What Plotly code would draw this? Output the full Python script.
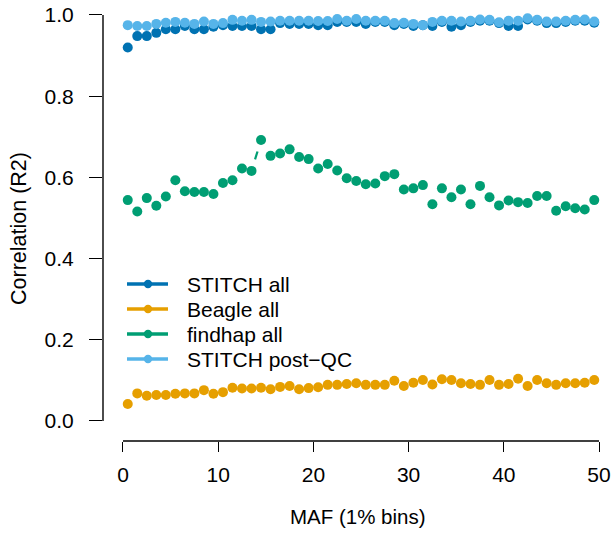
import math
import plotly.graph_objects as go

# ---------------- data ----------------
maf_bins = [i + 0.5 for i in range(50)]

stitch_all = [0.920, 0.948, 0.948, 0.956, 0.965, 0.965, 0.973, 0.965, 0.965, 0.971,
              0.975, 0.973, 0.973, 0.973, 0.965, 0.965, 0.980, 0.978, 0.978, 0.978,
              0.975, 0.975, 0.983, 0.983, 0.983, 0.978, 0.983, 0.983, 0.975, 0.978,
              0.973, 0.975, 0.973, 0.983, 0.971, 0.975, 0.983, 0.986, 0.986, 0.980,
              0.973, 0.973, 0.989, 0.986, 0.980, 0.980, 0.983, 0.986, 0.986, 0.981]

beagle_all = [0.042, 0.068, 0.062, 0.064, 0.064, 0.067, 0.068, 0.068, 0.076, 0.067,
              0.071, 0.082, 0.080, 0.080, 0.082, 0.078, 0.084, 0.086, 0.078, 0.081,
              0.083, 0.089, 0.089, 0.091, 0.093, 0.089, 0.089, 0.089, 0.099, 0.086,
              0.094, 0.101, 0.090, 0.103, 0.101, 0.093, 0.091, 0.089, 0.101, 0.089,
              0.091, 0.104, 0.086, 0.101, 0.093, 0.089, 0.093, 0.093, 0.094, 0.101]

findhap_all = [0.544, 0.516, 0.549, 0.530, 0.553, 0.593, 0.566, 0.564, 0.564, 0.559,
               0.586, 0.593, 0.622, 0.616, 0.692, 0.653, 0.659, 0.669, 0.650, 0.645,
               0.622, 0.633, 0.617, 0.598, 0.591, 0.583, 0.585, 0.603, 0.608, 0.570,
               0.573, 0.581, 0.534, 0.573, 0.551, 0.570, 0.534, 0.579, 0.551, 0.531,
               0.543, 0.539, 0.537, 0.554, 0.554, 0.518, 0.529, 0.524, 0.521, 0.544]

stitch_postqc = [0.975, 0.973, 0.973, 0.978, 0.981, 0.983, 0.981, 0.978, 0.984, 0.978,
                 0.980, 0.988, 0.986, 0.988, 0.983, 0.984, 0.986, 0.986, 0.986, 0.986,
                 0.985, 0.985, 0.990, 0.986, 0.990, 0.986, 0.986, 0.986, 0.980, 0.981,
                 0.978, 0.975, 0.983, 0.986, 0.986, 0.984, 0.986, 0.989, 0.988, 0.982,
                 0.986, 0.986, 0.992, 0.988, 0.984, 0.984, 0.986, 0.988, 0.989, 0.984]

series_names = ["STITCH all", "Beagle all", "findhap all", "STITCH post\u2212QC"]
series_values = [stitch_all, beagle_all, findhap_all, stitch_postqc]
series_colors = ["#0072B2", "#E69F00", "#009E73", "#56B4E9"]

x_ticks = [0, 10, 20, 30, 40, 50]
y_ticks = [0.0, 0.2, 0.4, 0.6, 0.8, 1.0]
x_title = "MAF (1% bins)"
y_title = "Correlation (R2)"

# ---------------- geometry ----------------
W, H = 615, 539
ML, MR, MT, MB = 103, 0, 0, 98
PW, PH = W - ML - MR, H - MT - MB
XR = [-2.10, 51.68]
YR = [-0.0493, 1.0369]
FONT = "Liberation Sans, Arial, Helvetica, sans-serif"


def to_px(x, y):
    return (ML + (x - XR[0]) / (XR[1] - XR[0]) * PW,
            MT + (YR[1] - y) / (YR[1] - YR[0]) * PH)


def from_px(px, py):
    return (XR[0] + (px - ML) / PW * (XR[1] - XR[0]),
            YR[1] - (py - MT) / PH * (YR[1] - YR[0]))


def px_to_paper(px, py):
    return ((px - ML) / PW, (MT + PH - py) / PH)


GAP = 12.0  # R type="b" gap around each point, in px


def gapped_segments(xs, ys):
    sx, sy = [], []
    for i in range(len(xs) - 1):
        x0, y0 = to_px(xs[i], ys[i])
        x1, y1 = to_px(xs[i + 1], ys[i + 1])
        d = math.hypot(x1 - x0, y1 - y0)
        if d <= 2 * GAP:
            continue
        ux, uy = (x1 - x0) / d, (y1 - y0) / d
        a = from_px(x0 + ux * GAP, y0 + uy * GAP)
        b = from_px(x1 - ux * GAP, y1 - uy * GAP)
        sx += [a[0], b[0], None]
        sy += [a[1], b[1], None]
    return sx, sy


fig = go.Figure()
for name, vals, col in zip(series_names, series_values, series_colors):
    sx, sy = gapped_segments(maf_bins, vals)
    if sx:
        fig.add_trace(go.Scatter(x=sx, y=sy, mode="lines",
                                 line=dict(color=col, width=2.2),
                                 showlegend=False, hoverinfo="skip", cliponaxis=False))
    fig.add_trace(go.Scatter(x=maf_bins, y=vals, mode="markers", name=name,
                             marker=dict(color=col, size=10, line=dict(width=0)),
                             showlegend=False, cliponaxis=False))

shapes = []
annotations = []

# axis lines (R style: only across tick range)
shapes.append(dict(type="line", xref="paper", yref="y", x0=0, x1=0,
                   y0=y_ticks[0], y1=y_ticks[-1], line=dict(color="black", width=1.4)))
shapes.append(dict(type="line", xref="x", yref="paper", x0=x_ticks[0], x1=x_ticks[-1],
                   y0=0, y1=0, line=dict(color="black", width=1.4)))

# manual legend
leg_rows = [284, 309, 334, 359]
for name, col, ry in zip(series_names, series_colors, leg_rows):
    ax0, ay = px_to_paper(127, ry)
    ax1, _ = px_to_paper(168, ry)
    shapes.append(dict(type="line", xref="paper", yref="paper", x0=ax0, x1=ax1,
                       y0=ay, y1=ay, line=dict(color=col, width=3.5)))
    cx0, cy0 = px_to_paper(148 - 4.2, ry - 4.2)
    cx1, cy1 = px_to_paper(148 + 4.2, ry + 4.2)
    shapes.append(dict(type="circle", xref="paper", yref="paper", x0=cx0, x1=cx1,
                       y0=cy1, y1=cy0, fillcolor=col, line=dict(width=0)))
    tx, ty = px_to_paper(185, ry)
    annotations.append(dict(xref="paper", yref="paper", x=tx, y=ty, text=name,
                            showarrow=False, xanchor="left", yanchor="middle",
                            font=dict(family=FONT, size=21, color="black")))

# axis titles
tx, ty = px_to_paper(358, 516)
annotations.append(dict(xref="paper", yref="paper", x=tx, y=ty, text=x_title,
                        showarrow=False, xanchor="center", yanchor="middle",
                        font=dict(family=FONT, size=20.5, color="black")))
tx, ty = px_to_paper(19, 229)
annotations.append(dict(xref="paper", yref="paper", x=tx, y=ty, text=y_title,
                        showarrow=False, xanchor="center", yanchor="middle", textangle=-90,
                        font=dict(family=FONT, size=21.5, color="black")))

fig.update_layout(
    width=W, height=H,
    margin=dict(l=ML, r=MR, t=MT, b=MB, pad=0, autoexpand=False),
    paper_bgcolor="white", plot_bgcolor="white",
    showlegend=False,
    font=dict(family=FONT, size=21, color="black"),
    shapes=shapes, annotations=annotations,
    xaxis=dict(range=XR, tickvals=x_ticks, ticks="outside", ticklen=10, tickwidth=1.4,
               tickcolor="black", showgrid=False, zeroline=False, showline=False,
               automargin=False,
               ticklabelstandoff=5, tickfont=dict(family=FONT, size=21), fixedrange=True),
    yaxis=dict(range=YR, tickvals=y_ticks, tickformat=".1f", ticks="outside", ticklen=13,
               tickwidth=1.4, tickcolor="black", showgrid=False, zeroline=False,
               showline=False, automargin=False,
               ticklabelstandoff=11, tickfont=dict(family=FONT, size=21),
               fixedrange=True),
)

fig.write_html("out.html",
               config={"displayModeBar": False},
               post_script="document.body.style.margin='0px';document.body.style.padding='0px';")
